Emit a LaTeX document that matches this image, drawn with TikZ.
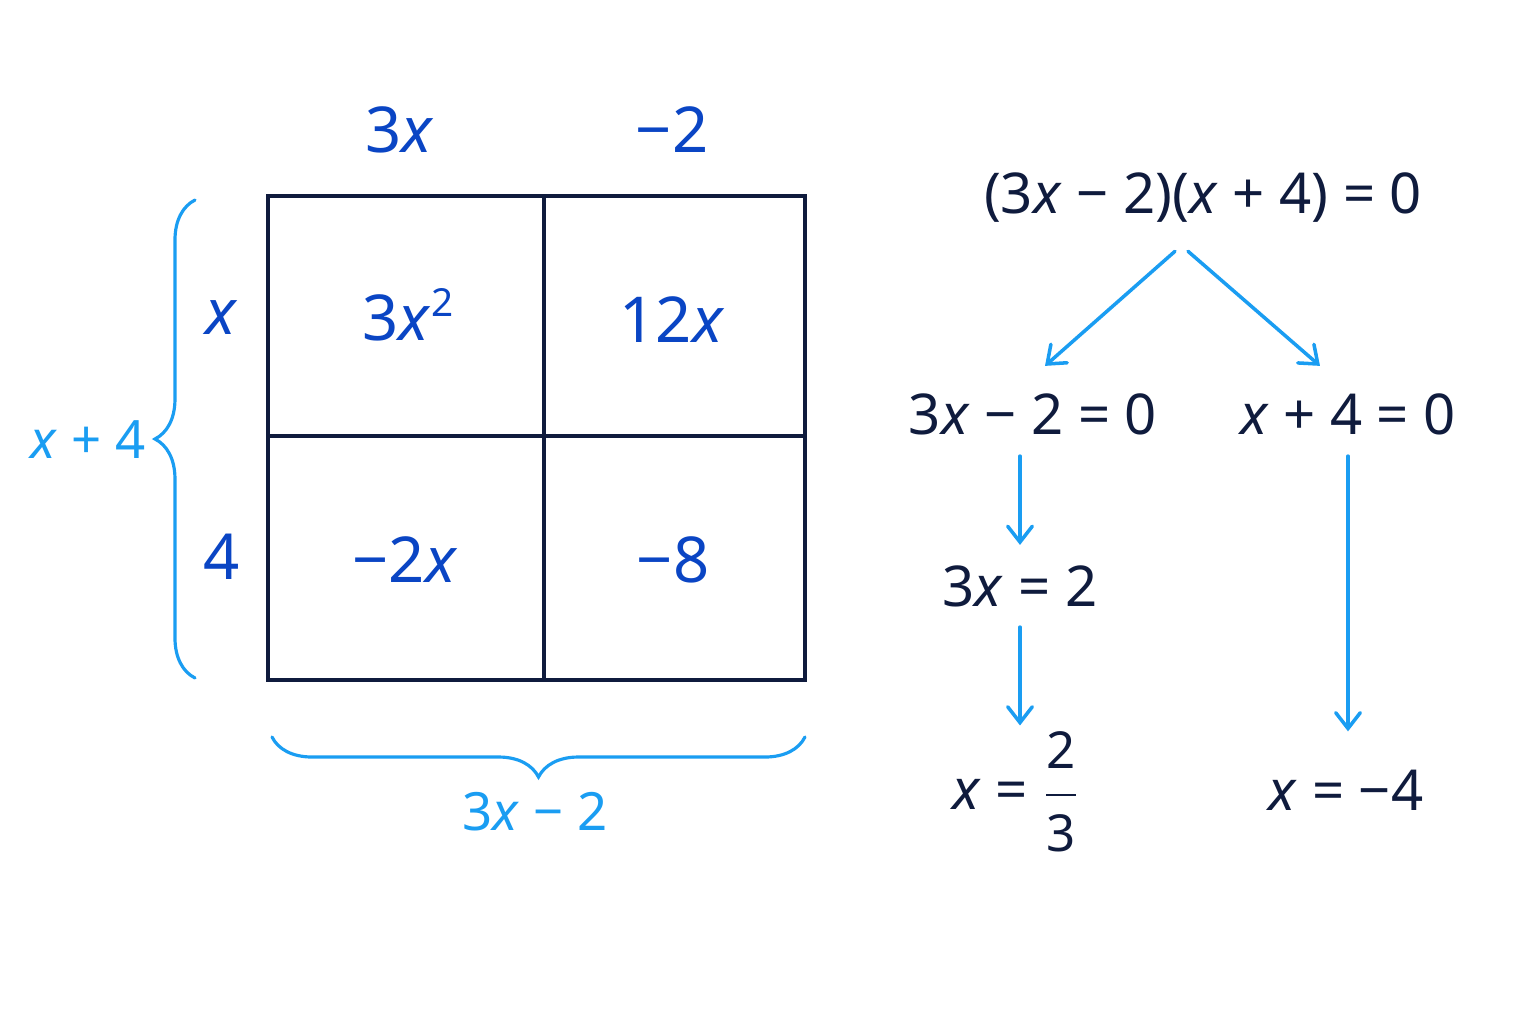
\documentclass[tikz,border=0pt]{standalone}
\usepackage{amsmath}
\usepackage{fontspec}
\setmainfont{Noto Sans}
\usetikzlibrary{arrows.meta,decorations.pathreplacing}
\definecolor{navy}{HTML}{0F1B3D}
\definecolor{cellblue}{HTML}{0A45C4}
\definecolor{skyblue}{HTML}{1A9DF2}
\newcommand{\vx}{\textit{x}}
\newcommand{\mn}{−}

\begin{document}
\begin{tikzpicture}[x=0.01cm,y=-0.01cm,
  celltext/.style={text=cellblue,font=\fontsize{18}{22}\selectfont},
  sidetext/.style={text=skyblue,font=\fontsize{15}{18}\selectfont},
  eqntext/.style={text=navy,font=\fontsize{16}{19}\selectfont},
  gridline/.style={draw=navy,line width=1.1pt},
  bracepath/.style={draw=skyblue,line width=0.9pt,line cap=round,decorate,decoration={brace,amplitude=0.4cm}},
  solvearrow/.style={draw=skyblue,line width=1pt,line cap=round,-{Straight Barb[length=4.5pt,width=7pt,line cap=round]}}]

\useasboundingbox[fill=white] (0,0) rectangle (1536,1024);

\draw[gridline] (268,196) rectangle (805,680);
\draw[gridline] (544,196) -- (544,680);
\draw[gridline] (268,436) -- (805,436);

\node[celltext] (colA) at (400,130) {3\vx};
\node[celltext] (colB) at (672,130) {\mn2};
\node[celltext] (rowA) at (222,318) {\vx};
\node[celltext] (rowB) at (222,557) {4};

\node[celltext] (cellAA) at (408,315) {3\vx\raisebox{0.7ex}{\fontsize{11}{12}\selectfont 2}};
\node[celltext] (cellAB) at (672,320) {12\vx};
\node[celltext] (cellBA) at (405,560) {\mn2\vx};
\node[celltext] (cellBB) at (673,560) {\mn8};

\draw[bracepath] (195,678) -- (195,200);
\node[sidetext] (sideH) at (88,440) {\vx{} + 4};
\draw[bracepath] (805,737) -- (272,737);
\node[sidetext] (sideW) at (535,812) {3\vx{} \mn{} 2};

\node[eqntext] (prod) at (1203,198) {(3\vx{} \mn{} 2)(\vx{} + 4) = 0};
\node[eqntext] (eqA) at (1033,414) {3\vx{} \mn{} 2 = 0};
\node[eqntext] (eqB) at (1348,414) {\vx{} + 4 = 0};
\node[eqntext] (stepA) at (1020,586) {3\vx{} = 2};
\node[eqntext] (solA) at (1016,792) {\vx{} = $\dfrac{\text{\fontsize{14.5}{17}\selectfont 2}}{\text{\fontsize{14.5}{17}\selectfont 3}}$};
\node[eqntext] (solB) at (1346,790) {\vx{} = \mn4};

\draw[solvearrow] ([xshift=-0.28cm,yshift=-0.16cm]prod.south) -- ([xshift=0.12cm,yshift=0.15cm]eqA.north);
\draw[solvearrow] ([xshift=-0.15cm,yshift=-0.16cm]prod.south) -- ([xshift=-0.28cm,yshift=0.15cm]eqB.north);
\draw[solvearrow,shorten <=0.09cm,shorten >=0.08cm] (stepA.north |- eqA.south) -- (stepA.north);
\draw[solvearrow,shorten <=0.08cm] (stepA.south) -- ([yshift=-0.06cm]stepA.south |- solA.north);
\draw[solvearrow,shorten <=0.09cm,shorten >=0.26cm] (eqB.south) -- (eqB.south |- solB.north);

\end{tikzpicture}
\end{document}
